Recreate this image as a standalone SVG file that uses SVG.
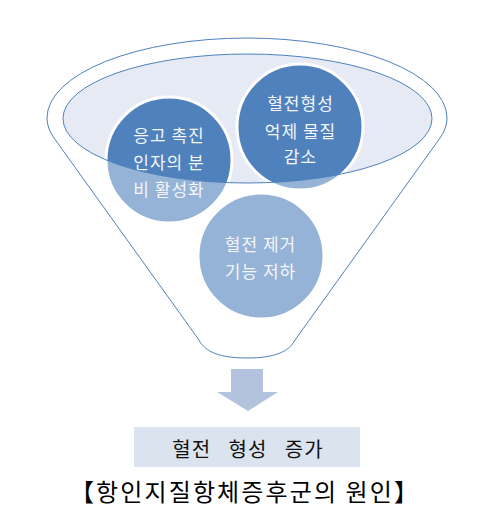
<svg xmlns="http://www.w3.org/2000/svg" width="480" height="519" viewBox="0 0 480 519">
  <style>
    .ln { fill: none; stroke: #4F81BD; stroke-width: 1; }
    .ct { font-family: "Noto Sans CJK KR", "Noto Sans", sans-serif; font-size: 17px; letter-spacing: 1px; fill: #F4F6FA; text-anchor: middle; dominant-baseline: central; }
    .light { fill: #95B3D7; }
    .dark { fill: #4F81BD; }
    .ring { fill: none; stroke: #FFFFFF; stroke-width: 3; }
  </style>
  <defs>
    <clipPath id="inEllipse">
      <ellipse cx="247.5" cy="118.5" rx="184.5" ry="64.5"/>
    </clipPath>
  </defs>
  <rect width="480" height="519" fill="#FFFFFF"/>

  <g id="funnel">
    <path d="M47,118 A200,80 0 0 1 447,118 Q447,128 440,138 L295,340 C289,352 274,358 247,358 C220,358 205,352 199,340 L54,138 Q47,128 47,118 Z" fill="#FFFFFF" stroke="#4F81BD" stroke-width="1"/>
    <ellipse cx="247.5" cy="118.5" rx="184.5" ry="64.5" fill="#E5EAF4"/>
  </g>

  <g id="node-clotting-factor">
    <circle class="light" cx="169" cy="160" r="63"/>
    <circle class="dark" cx="169" cy="160" r="63" clip-path="url(#inEllipse)"/>
    <circle class="ring" cx="169" cy="160" r="63"/>
    <text class="ct" x="169" y="134">응고 촉진</text>
    <text class="ct" x="169" y="161">인자의 분</text>
    <text class="ct" x="169" y="188">비 활성화</text>
  </g>

  <g id="node-inhibitor">
    <circle class="light" cx="300" cy="127" r="63"/>
    <circle class="dark" cx="300" cy="127" r="63" clip-path="url(#inEllipse)"/>
    <circle class="ring" cx="300" cy="127" r="63"/>
    <text class="ct" x="300.5" y="102.5">혈전형성</text>
    <text class="ct" x="300.5" y="130">억제 물질</text>
    <text class="ct" x="300.5" y="155.5">감소</text>
  </g>

  <g id="node-clearance">
    <circle class="light" cx="261" cy="256" r="63"/>
    <circle class="ring" cx="261" cy="256" r="63"/>
    <text class="ct" x="260.5" y="243">혈전 제거</text>
    <text class="ct" x="260.5" y="270">기능 저하</text>
  </g>

  <g id="ellipse-outline">
    <ellipse class="ln" cx="247.5" cy="118.5" rx="184.5" ry="64.5"/>
  </g>

  <g id="connectors">
    <path d="M231,369 H263 V392 H278 L248,411 L217,392 H231 Z" fill="#B3C3DD"/>
  </g>

  <g id="node-result">
    <rect x="134" y="427" width="226" height="40" fill="#DBE3EF"/>
    <text x="248" y="457" font-family="'Noto Sans CJK KR', 'Noto Sans', sans-serif" font-size="20" fill="#111111" text-anchor="middle" letter-spacing="1" word-spacing="12">혈전 형성 증가</text>
  </g>

  <g id="caption">
    <text x="70" y="501" font-family="'Noto Sans CJK KR', 'Noto Sans', sans-serif" font-size="24" fill="#000000" textLength="348" lengthAdjust="spacing">【항인지질항체증후군의 원인】</text>
  </g>
</svg>
